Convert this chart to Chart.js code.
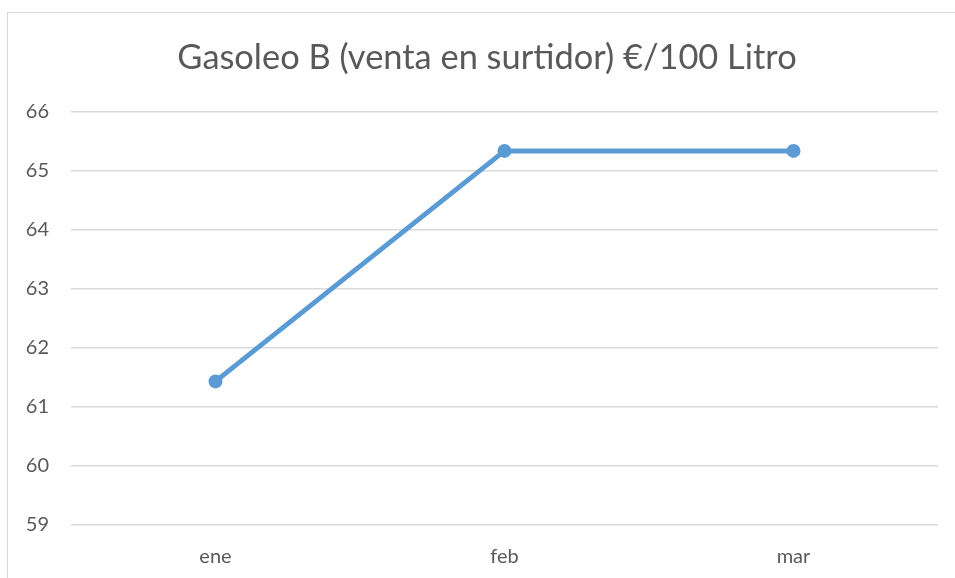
<!DOCTYPE html>
<html>
<head>
<meta charset="utf-8">
<script src="https://cdn.jsdelivr.net/npm/chart.js@4.4.1/dist/chart.umd.min.js"></script>
<style>
    html, body { margin: 0; padding: 0; background: #fff; }
    #wrap { position: relative; width: 955px; height: 578px; }
    #frame {
        position: absolute; left: 7px; top: 12px; right: 0; bottom: 0;
        border-left: 1px solid #d9d9d9; border-top: 1px solid #d9d9d9;
        pointer-events: none;
    }
</style>
</head>
<body>
<div id="wrap">
    <canvas id="chart" width="955" height="578"></canvas>
    <div id="frame"></div>
</div>
<script>
    // Chart data
    const months = ['ene', 'feb', 'mar'];
    const prices = [61.43, 65.33, 65.33];
    const yTicks = [59, 60, 61, 62, 63, 64, 65, 66];

    const textColor = '#595959';
    const gridColor = '#d9d9d9';
    const lineColor = '#5b9bd5';
    const fontFamily = 'Lato, "Open Sans", sans-serif';

    // Title sits a bit right of the canvas centre in the original
    const shiftTitle = {
        id: 'shiftTitle',
        afterLayout(chart) {
            if (chart.titleBlock) chart.titleBlock.left = 36;
        },
    };

    const ctx = document.getElementById('chart').getContext('2d');
    new Chart(ctx, {
        type: 'line',
        data: {
            labels: months,
            datasets: [{
                label: 'Gasoleo B',
                data: prices,
                borderColor: lineColor,
                backgroundColor: lineColor,
                borderWidth: 5,
                pointRadius: 7,
                pointHoverRadius: 7,
                pointBorderWidth: 0,
                tension: 0,
            }],
        },
        options: {
            responsive: false,
            animation: false,
            layout: { padding: { left: 0, right: 17, top: 0, bottom: 0 } },
            plugins: {
                legend: { display: false },
                tooltip: { enabled: false },
                title: {
                    display: true,
                    text: 'Gasoleo B (venta en surtidor) €/100 Litro',
                    color: textColor,
                    font: { family: fontFamily, size: 34.4, weight: 'normal' },
                    padding: { top: 37, bottom: 33 },
                },
            },
            scales: {
                x: {
                    offset: true,
                    grid: { display: false, drawTicks: false },
                    border: { display: false },
                    ticks: {
                        color: textColor,
                        font: { family: fontFamily, size: 20 },
                        padding: 20,
                    },
                    afterFit: (axis) => { axis.height = 53; },
                },
                y: {
                    min: 59,
                    max: 66,
                    afterBuildTicks: (axis) => { axis.ticks = yTicks.map(v => ({ value: v })); },
                    grid: { color: gridColor, lineWidth: 1.5, drawTicks: false },
                    border: { display: false },
                    ticks: {
                        color: textColor,
                        font: { family: fontFamily, size: 20 },
                        padding: 22,
                    },
                    afterFit: (axis) => { axis.width = 71; },
                },
            },
        },
        plugins: [shiftTitle],
    });
</script>
</body>
</html>
